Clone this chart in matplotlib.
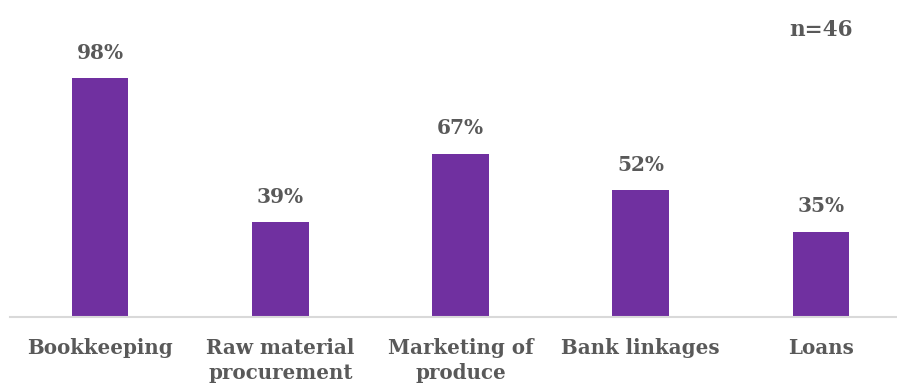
import matplotlib
matplotlib.use("Agg")
import matplotlib.pyplot as plt

categories = ["Bookkeeping", "Raw material\nprocurement", "Marketing of\nproduce",
              "Bank linkages", "Loans"]
values = [98, 39, 67, 52, 35]
sample_note = "n=46"

bar_color = "#7030A0"
text_color = "#595959"
font = dict(family="DejaVu Serif", weight="bold")

W, H = 897, 385
fig = plt.figure(figsize=(W / 100, H / 100), dpi=100)
base_px = 317  # baseline from top
ax = fig.add_axes([10 / W, (H - base_px) / H, 901 / W, base_px / H])

x = range(len(categories))
bars = ax.bar(x, values, width=0.314, color=bar_color, zorder=2)

ax.set_xlim(-0.5, len(categories) - 0.5)
ax.set_ylim(0, base_px / 2.44)

for rect, v in zip(bars, values):
    ax.annotate(f"{v}%", (rect.get_x() + rect.get_width() / 2, v),
                xytext=(0, 11), textcoords="offset points",
                ha="center", va="bottom", fontsize=14.5, color=text_color, **font)

ax.set_xticks(list(x))
ax.set_xticklabels(categories, fontsize=14.3, color=text_color, linespacing=1.3, **font)
ax.tick_params(axis="x", length=0, pad=15)
ax.set_yticks([])

for side in ("top", "right", "left"):
    ax.spines[side].set_visible(False)
ax.spines["bottom"].set_color("#d9d9d9")
ax.spines["bottom"].set_linewidth(1.5)

fig.text(821 / W, 1 - 30 / H, sample_note, ha="center", va="center",
         fontsize=15.5, color=text_color, **font)

fig.savefig("out.png", dpi=100)
